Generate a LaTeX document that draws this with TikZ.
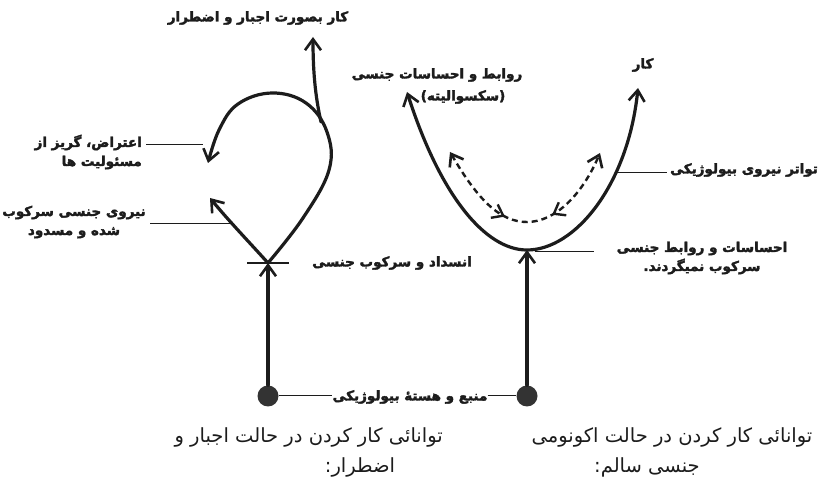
\documentclass[tikz,border=0pt]{standalone}
\usepackage{fontspec}
\TeXXeTstate=1
\newfontfamily\arabicfont[Script=Arabic]{DejaVu Sans}
\newfontfamily\arabicbold[Script=Arabic,FakeBold=2.5]{DejaVu Sans Bold}
\usetikzlibrary{arrows.meta,decorations.markings}
\definecolor{ink}{HTML}{1C1C1C}
\begin{document}
\begin{tikzpicture}[x=1pt,y=-1pt,
  main/.style={draw=ink,line width=3.2pt,line cap=round},
  arr/.style={-{Straight Barb[length=11pt,width=16pt,line width=2.6pt]}},
  arrboth/.style={{Straight Barb[length=11pt,width=16pt,line width=2.6pt]}-{Straight Barb[length=11pt,width=16pt,line width=2.6pt]}},
  dashline/.style={draw=ink,line width=2.4pt,dash pattern=on 6pt off 4pt},
  thin/.style={draw=ink,line width=1pt},
  bar/.style={draw=ink,line width=2.4pt},
  dot/.style={circle,fill=ink!90,minimum size=21pt,inner sep=0pt},
  lbl/.style={font=\arabicbold\fontsize{13.5}{19}\selectfont,inner sep=0pt,text=ink},
  captxt/.style={font=\arabicfont\fontsize{19.5}{24}\selectfont,inner sep=0pt,text=ink}
]
\fill[white] (0,0) rectangle (820,486);
\useasboundingbox (0,0) rectangle (820,486);

% ---------- left figure ----------
\node[dot] (dotL) at (268,396) {};
\coordinate (X) at (268,263);
\coordinate (barL) at (247,263);
\coordinate (barR) at (289,263);
\coordinate (Ltip) at (210,198);
\coordinate (Bstart) at (321,122);
\coordinate (Btip) at (313,37);
\draw[main,arr] (dotL) -- (X);
\draw[bar] (barL) -- (barR);
\draw[main,arr] (X) .. controls (250,243) and (228,220) .. (Ltip);
\draw[main,arr] plot[smooth,tension=0.65] coordinates {(268,263) (303,218) (329,170) (327,132) (306,103) (272,93) (238,104) (219,130) (208,163)};
\draw[main,arr] (Bstart) .. controls (315,95) and (313,70) .. (Btip);

\node[lbl] (topL) at (258,18) {\beginR کار بصورت اجبار و اضطرار\endR};
\node[lbl,align=right,anchor=east] (eteraz) at (142,152) {\beginR اعتراض، گریز از\endR\\\beginR مسئولیت ها\endR};
\coordinate (e1) at (146,145);
\coordinate (e2) at (203,145);
\draw[thin] (e1) -- (e2);
\node[lbl,align=center] (niru) at (74,222) {\beginR نیروی جنسی سرکوب\endR\\\beginR شده و مسدود\endR};
\coordinate (n1) at (150,224);
\coordinate (n2) at (232,224);
\draw[thin] (n1) -- (n2);
\node[lbl] (ensedad) at (392,263) {\beginR انسداد و سرکوب جنسی\endR};

% ---------- right figure ----------
\node[dot] (dotR) at (527,396) {};
\coordinate (Ubot) at (527,250);
\coordinate (Ul) at (407,92);
\coordinate (Ur) at (638,88);
\draw[main,arr] (dotR) -- (Ubot);
\draw[main,arrboth] (Ul) .. controls (440,195) and (485,250) .. (Ubot) .. controls (575,250) and (628,185) .. (Ur);
\coordinate (Dl) at (450,152);
\coordinate (Dm) at (527,222);
\coordinate (Dr) at (600,153);
\draw[dashline,arrboth,
  postaction={decorate,decoration={markings,
    mark=at position 0.40 with {\arrow[line width=2.4pt]{Straight Barb[length=10pt,width=15pt]}},
    mark=at position 0.63 with {\arrowreversed[line width=2.4pt]{Straight Barb[length=10pt,width=15pt]}}}}]
  (Dl) .. controls (478,200) and (500,222) .. (Dm) .. controls (555,222) and (582,195) .. (Dr);

\node[lbl] (ravabet) at (437,75) {\beginR روابط و احساسات جنسی\endR};
\node[lbl] (sexual) at (463,97) {\beginR (سکسوالیته)\endR};
\node[lbl] (kar) at (643,65) {\beginR کار\endR};
\node[lbl] (tavator) at (744,170) {\beginR تواتر نیروی بیولوژیکی\endR};
\coordinate (t1) at (617,173);
\coordinate (t2) at (667,173);
\draw[thin] (t1) -- (t2);
\node[lbl,align=center] (ehsasat) at (702,258) {\beginR احساسات و روابط جنسی\endR\\\beginR سرکوب نمیگردند.\endR};
\coordinate (h1) at (535,252);
\coordinate (h2) at (594,252);
\draw[thin] (h1) -- (h2);

% ---------- source ----------
\node[lbl] (manba) at (410,397) {\beginR منبع و هستهٔ بیولوژیکی\endR};
\draw[thin] (dotL.east) -- (dotL.east -| manba.west);
\draw[thin] (manba.east |- dotR.west) -- (dotR.west);

% ---------- captions ----------
\node[captxt,anchor=east] (capL1) at (443,437) {\beginR توانائی کار کردن در حالت اجبار و\endR};
\node[captxt] (capL2) at (360,467) {\beginR اضطرار:\endR};
\node[captxt] (capR1) at (672,437) {\beginR توانائی کار کردن در حالت اکونومی\endR};
\node[captxt] (capR2) at (647,467) {\beginR جنسی سالم:\endR};
\end{tikzpicture}
\end{document}
